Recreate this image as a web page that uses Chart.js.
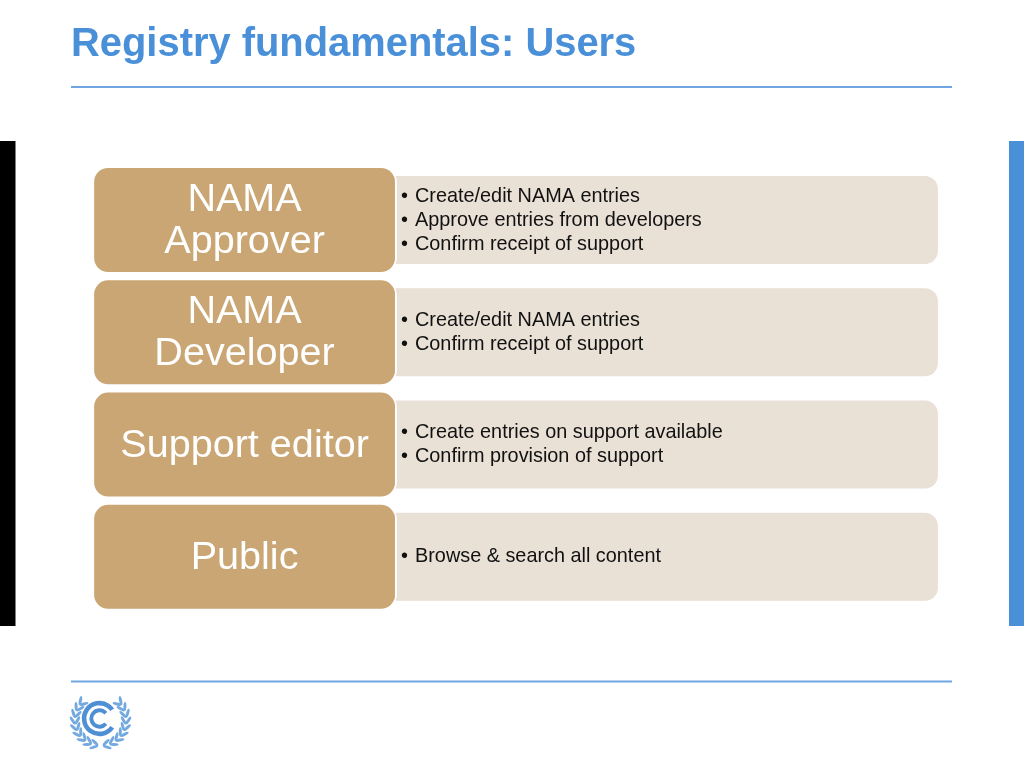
<!DOCTYPE html>
<html>
<head>
<meta charset="utf-8">
<title>Registry fundamentals: Users</title>
<script src="https://cdn.jsdelivr.net/npm/chart.js@4"></script>
<style>
html, body { margin: 0; padding: 0; background: #ffffff; }
canvas { display: block; }
</style>
</head>
<body>
<canvas id="myChart" width="1024" height="768"></canvas>
<script>
// rows of the slide
var roller = ["NAMA Approver", "NAMA Developer", "Support editor", "Public"];
var rolSatir = [["NAMA", "Approver"], ["NAMA", "Developer"], ["Support editor"], ["Public"]];
var gorevler = [
  ["Create/edit NAMA entries", "Approve entries from developers", "Confirm receipt of support"],
  ["Create/edit NAMA entries", "Confirm receipt of support"],
  ["Create entries on support available", "Confirm provision of support"],
  ["Browse & search all content"]
];
// bar extents, percent of the diagram width
var rolAralik = [[2.4, 37], [2.4, 37], [2.4, 37], [2.4, 37]];
var gorevAralik = [[34, 98.4], [34, 98.4], [34, 98.4], [34, 98.4]];

var mavi = "#4a90d9";
var cizgi = "#6fa5e2";

function yaprak(ctx, x, y, aci, boy, en) {
  ctx.beginPath();
  ctx.ellipse(x, y, boy, en, aci, 0, Math.PI * 2);
  ctx.fill();
}

function logo(ctx) {
  var cx = 99.5, cy = 718.5;
  ctx.save();
  ctx.strokeStyle = "#4f90d4";
  ctx.lineCap = "butt";
  ctx.lineWidth = 4.6;
  ctx.beginPath();
  ctx.arc(cx, cy, 15.4, 0.6, Math.PI * 2 - 0.6);
  ctx.stroke();
  ctx.lineWidth = 4;
  ctx.beginPath();
  ctx.arc(cx, cy, 8.2, 0.7, Math.PI * 2 - 0.7);
  ctx.stroke();

  // laurel branches
  ctx.fillStyle = "#73a9de";
  var lx = 100.5, ly = 720, r = 25.5;
  for (var a = 14; a <= 134; a += 15) {
    var t = a * Math.PI / 180;
    var k = Math.cos(t), s = Math.sin(t);
    // right and left side of the wreath, one leaf each side of the stem
    yaprak(ctx, lx + (r + 2.4) * s, ly + (r + 2.4) * k, -t + 0.55, 4.6, 1.5);
    yaprak(ctx, lx + (r - 2.4) * s, ly + (r - 2.4) * k, -t - 0.55, 4.6, 1.5);
    yaprak(ctx, lx - (r + 2.4) * s, ly + (r + 2.4) * k, t - 0.55, 4.6, 1.5);
    yaprak(ctx, lx - (r - 2.4) * s, ly + (r - 2.4) * k, t + 0.55, 4.6, 1.5);
  }
  ctx.restore();
}

// slide furniture behind the chart
var sayfaPlugin = {
  id: "sayfa",
  beforeDraw: function(chart) {
    var ctx = chart.ctx;
    ctx.save();
    ctx.fillStyle = "#000000";
    ctx.fillRect(0, 141, 15.5, 485);
    ctx.fillStyle = mavi;
    ctx.fillRect(1009, 141, 15, 485);
    ctx.fillStyle = cizgi;
    ctx.fillRect(71, 86, 881, 2);
    ctx.fillRect(71, 680.5, 881, 2);
    ctx.restore();
    logo(ctx);
  }
};

// text inside the bars
var yaziPlugin = {
  id: "yazi",
  afterDatasetsDraw: function(chart) {
    var ctx = chart.ctx;
    var gorevMeta = chart.getDatasetMeta(0).data;
    var rolMeta = chart.getDatasetMeta(1).data;
    ctx.save();
    ctx.textBaseline = "middle";

    ctx.font = "39.6px 'Liberation Sans'";
    ctx.fillStyle = "#ffffff";
    ctx.textAlign = "center";
    rolMeta.forEach(function(bar, i) {
      var satir = rolSatir[i];
      var orta = (bar.x + bar.base) / 2;
      var y = bar.y + 1 - (satir.length - 1) * 21;
      satir.forEach(function(s, j) {
        ctx.fillText(s, orta, y + j * 42);
      });
    });

    ctx.font = "19.85px 'Liberation Sans'";
    ctx.fillStyle = "#111111";
    ctx.textAlign = "left";
    gorevMeta.forEach(function(bar, i) {
      var satir = gorevler[i];
      var y = bar.y - (satir.length - 1) * 12;
      satir.forEach(function(s, j) {
        ctx.fillText("\u2022", 401, y + j * 24);
        ctx.fillText(s, 415, y + j * 24);
      });
    });
    ctx.restore();
  }
};

var myChart = new Chart(document.getElementById("myChart"), {
  type: "bar",
  data: {
    labels: roller,
    datasets: [{
      label: "Tasks",
      data: gorevAralik,
      backgroundColor: "#e9e0d6",
      borderRadius: 13,
      borderSkipped: false,
      categoryPercentage: 1,
      barPercentage: 88 / 112.25,
      grouped: false,
      order: 2
    }, {
      label: "Role",
      data: rolAralik,
      backgroundColor: "#c9a673",
      borderColor: "#ffffff",
      borderWidth: 2,
      borderRadius: 16,
      borderSkipped: false,
      categoryPercentage: 1,
      barPercentage: 108 / 112.25,
      grouped: false,
      order: 1
    }]
  },
  options: {
    indexAxis: "y",
    responsive: false,
    animation: false,
    devicePixelRatio: 1,
    layout: { padding: { left: 71, right: 72, top: 0, bottom: 155 } },
    scales: {
      x: { type: "linear", min: 0, max: 100, display: false },
      y: { type: "category", display: false }
    },
    plugins: {
      legend: { display: false },
      tooltip: { enabled: false },
      title: {
        display: true,
        text: "Registry fundamentals: Users",
        align: "start",
        color: mavi,
        font: { family: "'Liberation Sans'", size: 39.9, weight: "bold", lineHeight: 1.2 },
        padding: { top: 21, bottom: 95 }
      }
    }
  },
  plugins: [sayfaPlugin, yaziPlugin]
});
</script>
</body>
</html>
